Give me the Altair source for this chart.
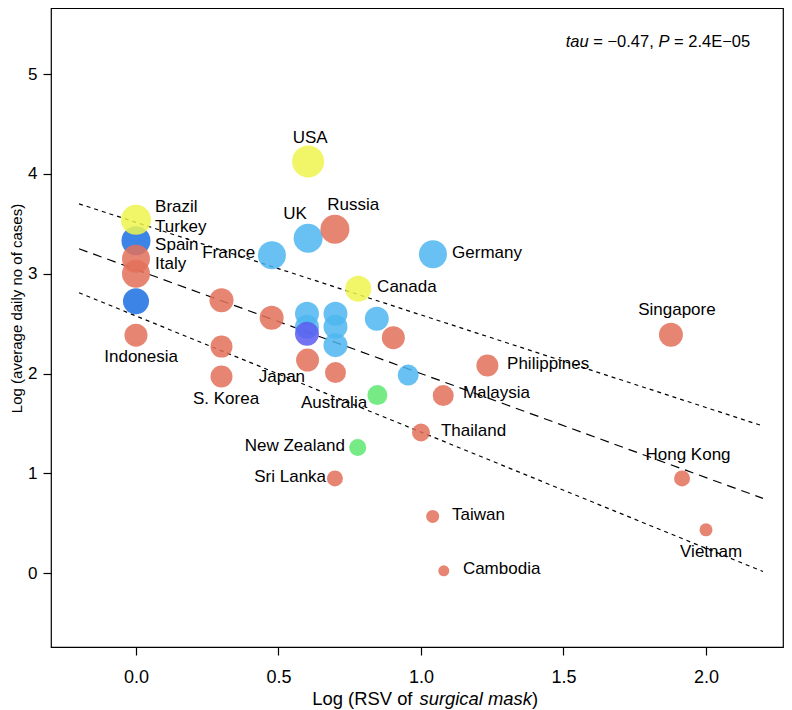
"""Bubble scatter of mask search interest against daily COVID-19 cases"""

import altair as alt
import pandas as pd

# points (drawing order matters for the overlaps)
countries = [
    "Turkey", "Brazil", "Spain", "Italy", "", "Indonesia", "USA", "UK", "Russia",
    "France", "Germany", "Canada", "", "", "", "S. Korea", "Japan", "", "", "", "",
    "", "", "", "", "", "", "Australia", "New Zealand", "Sri Lanka", "Singapore",
    "Philippines", "Malaysia", "Thailand", "Hong Kong", "Taiwan", "Vietnam", "Cambodia",
]
log_rsv = [
    0.0, 0.0, 0.0, 0.0, 0.0, 0.0, 0.604, 0.604, 0.698,
    0.477, 1.042, 0.78, 0.30, 0.476, 0.30, 0.30, 0.602, 0.70, 0.60, 0.60, 0.60,
    0.70, 0.70, 0.70, 0.845, 0.903, 0.955, 0.847, 0.778, 0.698, 1.877,
    1.233, 1.078, 1.0, 1.916, 1.041, 2.0, 1.08,
]
log_cases = [
    3.33, 3.54, 3.15, 3.00, 2.725, 2.385, 4.125, 3.355, 3.445,
    3.185, 3.195, 2.85, 2.735, 2.56, 2.27, 1.97, 2.135, 2.01, 2.60, 2.47, 2.40,
    2.60, 2.47, 2.285, 2.55, 2.36, 1.985, 1.785, 1.26, 0.95, 2.39,
    2.08, 1.78, 1.41, 0.95, 0.57, 0.435, 0.025,
]
group = [
    "E", "C", "A", "A", "E", "A", "C", "B", "A",
    "B", "B", "C", "A", "A", "A", "A", "A", "A", "B", "B", "F",
    "B", "B", "B", "B", "A", "B", "D", "D", "A", "A",
    "A", "A", "A", "A", "A", "A", "A",
]
magnitude = [
    29, 30, 28, 28, 26, 23, 32, 29, 29,
    28, 28, 26, 24, 24, 22, 22, 23, 21, 24, 24, 24,
    24, 24, 24, 24, 23, 21, 20, 17, 16, 24,
    22, 21, 18, 16, 13, 13, 11,
]
group_names = ["A", "B", "C", "D", "E", "F"]
group_colors = ["#e3705a", "#4db6f0", "#eef54e", "#5ee870", "#1a6ee0", "#5c5cf0"]

# fitted trend and its bounds
fit_x = [-0.2, 2.2]
fit_mid = [3.25, 0.75]
fit_upper = [3.70, 1.475]
fit_lower = [2.81, 0.018]

# country labels, placed in data units
label_names = [
    "USA", "UK", "Russia", "France", "Germany", "Brazil", "Turkey", "Spain", "Italy",
    "Canada", "Singapore", "Philippines", "Malaysia", "Thailand", "Hong Kong",
    "Taiwan", "Vietnam", "Cambodia", "New Zealand", "Sri Lanka", "Australia",
    "Japan", "S. Korea", "Indonesia",
]
label_x = [
    0.611, 0.558, 0.762, 0.418, 1.109, 0.067, 0.067, 0.067, 0.067,
    0.846, 1.898, 1.302, 1.147, 1.070, 1.937,
    1.109, 2.018, 1.147, 0.733, 0.667, 0.811,
    0.512, 0.316, 0.018,
]
label_y = [
    4.355, 3.595, 3.685, 3.205, 3.205, 3.665, 3.465, 3.285, 3.095,
    2.865, 2.635, 2.095, 1.805, 1.425, 1.185,
    0.585, 0.215, 0.045, 1.275, 0.965, 1.705,
    1.965, 1.745, 2.165,
]
label_align = [
    "center", "center", "center", "right", "left", "left", "left", "left", "left",
    "left", "center", "left", "left", "left", "center",
    "left", "center", "left", "right", "right", "right",
    "center", "center", "center",
]

FONT = "Liberation Sans"
X_DOMAIN = [-0.2982, 2.2702]
Y_DOMAIN = [-0.738, 5.661]

points = pd.DataFrame({"country": countries, "rsv": log_rsv, "cases": log_cases,
                       "group": group, "magnitude": magnitude})
fits = pd.DataFrame({"rsv": fit_x, "mid": fit_mid, "upper": fit_upper, "lower": fit_lower})
labels = pd.DataFrame({"name": label_names, "lx": label_x, "ly": label_y, "align": label_align})


def x_enc(field):
    return alt.X(field, type="quantitative",
                 scale=alt.Scale(domain=X_DOMAIN, nice=False, zero=False),
                 axis=alt.Axis(values=[0, 0.5, 1, 1.5, 2], format=".1f", title=None,
                               labelFontSize=18, labelPadding=13))


def y_enc(field):
    return alt.Y(field, type="quantitative",
                 scale=alt.Scale(domain=Y_DOMAIN, nice=False, zero=False),
                 axis=alt.Axis(values=[0, 1, 2, 3, 4, 5], format="d",
                               title="Log (average daily no of cases)",
                               labelFontSize=17, labelPadding=6,
                               titleFontSize=15, titleFontWeight="normal",
                               titleX=-35, titleY=300, titleBaseline="middle",
                               titleAlign="center", titleAngle=-90))


bubbles = alt.Chart(points).mark_circle(opacity=0.85, stroke=None).encode(
    x=x_enc("rsv"),
    y=y_enc("cases"),
    color=alt.Color("group:N", scale=alt.Scale(domain=group_names, range=group_colors),
                    legend=None),
    size=alt.Size("magnitude:Q", scale=alt.Scale(type="pow", exponent=2,
                                                 domain=[0, 32], range=[0, 1024]),
                  legend=None),
)

base_fit = alt.Chart(fits).encode(x=x_enc("rsv"))
mid_line = base_fit.mark_line(color="black", strokeWidth=1.2, strokeDash=[9, 6]).encode(
    y=y_enc("mid"))
upper_line = base_fit.mark_line(color="black", strokeWidth=1.2, strokeDash=[4, 4]).encode(
    y=y_enc("upper"))
lower_line = base_fit.mark_line(color="black", strokeWidth=1.2, strokeDash=[4, 4]).encode(
    y=y_enc("lower"))

label_layers = []
for side in ["left", "right", "center"]:
    label_layers.append(
        alt.Chart(labels).transform_filter(alt.datum.align == side)
        .mark_text(align=side, baseline="middle", font=FONT, fontSize=17, color="black")
        .encode(x=x_enc("lx"), y=y_enc("ly"), text="name:N")
    )


def note(text, x, y, size, italic=False):
    """A fixed piece of text placed in pixels"""
    return alt.Chart(pd.DataFrame({"t": [text]})).mark_text(
        align="left", baseline="alphabetic", font=FONT, fontSize=size, color="black",
        fontStyle="italic" if italic else "normal",
    ).encode(x=alt.value(x), y=alt.value(y), text="t:N")


notes = [
    note("tau", 514.7, 38.7, 16.5, True),
    note("= \u22120.47,", 542.2, 38.7, 16.5),
    note("P", 607.4, 38.7, 16.5, True),
    note("= 2.4E\u221205", 623, 38.7, 16.5),
    note("Log (RSV of", 261.3, 697, 18.4),
    note("surgical mask", 368.5, 697, 18.4, True),
    note(")", 481, 697, 18.4),
]

chart = alt.layer(
    upper_line, mid_line, lower_line, bubbles, *label_layers, *notes
).properties(
    width=732, height=639,
    autosize=alt.AutoSizeParams(type="none"),
    padding={"left": 43, "top": 0, "right": 1, "bottom": 63},
).configure_view(
    stroke="black", strokeWidth=1.2
).configure_axis(
    domain=False, grid=False, tickColor="black", tickSize=8, tickWidth=1.2,
    labelFont=FONT, titleFont=FONT, labelColor="black", titleColor="black",
)

chart.save("out.html", embed_options={"renderer": "svg", "actions": False})
